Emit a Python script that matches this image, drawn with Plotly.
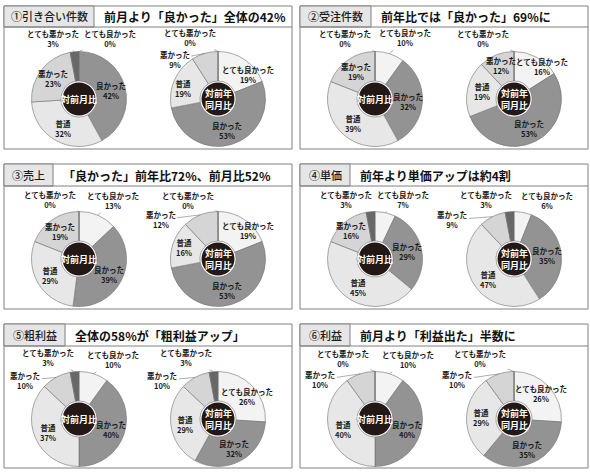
import math
import plotly.graph_objects as go

W, H = 590, 474

# ---------------- data ----------------
categories = ["とても良かった", "良かった", "普通", "悪かった", "とても悪かった"]
panel_labels = ["①引き合い件数", "②受注件数", "③売上", "④単価", "⑤粗利益", "⑥利益"]
panel_titles = [
    "前月より「良かった」全体の42%",
    "前年比では「良かった」69%に",
    "「良かった」前年比72%、前月比52%",
    "前年より単価アップは約4割",
    "全体の58%が「粗利益アップ」",
    "前月より「利益出た」半数に",
]
center_labels = ["対前月比", "対前年<br>同月比"]

# values in category order: [month-on-month, year-on-year]
p1_mom = [0, 42, 32, 23, 3]
p1_yoy = [19, 53, 19, 9, 0]
p2_mom = [10, 32, 39, 19, 0]
p2_yoy = [16, 53, 19, 12, 0]
p3_mom = [13, 39, 29, 19, 0]
p3_yoy = [19, 53, 16, 12, 0]
p4_mom = [7, 29, 45, 16, 3]
p4_yoy = [6, 35, 47, 9, 3]
p5_mom = [10, 40, 37, 10, 3]
p5_yoy = [26, 32, 29, 10, 3]
p6_mom = [10, 40, 40, 10, 0]
p6_yoy = [26, 35, 29, 10, 0]

panel_values = [
    (p1_mom, p1_yoy), (p2_mom, p2_yoy), (p3_mom, p3_yoy),
    (p4_mom, p4_yoy), (p5_mom, p5_yoy), (p6_mom, p6_yoy),
]

# ---------------- styles / layout ----------------
FONT = "Noto Sans CJK JP"
COLORS = ["#f3f3f3", "#939393", "#e7e7e7", "#d5d5d5", "#686868"]
SLICE_LINE = "#707070"
DISC = "#231815"
BORDER = "#808080"
LABEL_FILL = "#e6e6e6"
R = 47.5
HOLE = 0.38
DISC_R = 16.5

col_x = [(4, 292), (300, 588)]
rows = [(6, 27, 149), (164, 186, 309), (324, 346, 468)]
label_box_w = [90, 71, 49, 50, 61, 50]
pie_cx_off = [75, 214]   # from panel left
pie_cy = [99, 259, 419]

I = ("in", 0, 0.70)
def IN(da, rf):
    return ("in", da, rf)
def OUT(ax, ay):
    return ("out", ax, ay)

label_specs = [
    ([OUT(31, -13), I, I, I, OUT(-22, -13)],
     [IN(17, 0.81), I, IN(-6, 0.77), OUT(-30, 6), OUT(-28, -14)]),
    ([OUT(15, -16), I, I, I, OUT(-30, -13)],
     [IN(12, 0.9), I, I, IN(0, 0.75), OUT(-31, -13)]),
    ([OUT(15, -15), I, I, I, OUT(-29, -12)],
     [IN(12, 0.88), I, IN(0, 0.76), OUT(-40, 5), OUT(-30, -11)]),
    ([OUT(18, -13), I, I, IN(0, 0.78), OUT(-25, -12)],
     [OUT(24, -12), I, I, OUT(-40, 3), OUT(-24, -12)]),
    ([OUT(19, -14), I, I, OUT(-31, 3), OUT(-27, -14)],
     [IN(5, 0.78), I, I, OUT(-33, 3), OUT(-28, -14)]),
    ([OUT(18, -14), I, I, OUT(-40, 6), OUT(-32, -13)],
     [IN(0, 0.78), I, I, OUT(-42, 6), OUT(-34, -13)]),
]

def px(x):
    return x / W
def py(y):
    return 1 - y / H

fig = go.Figure()
shapes = []
annotations = []

def text_ann(x, y, text, font, xanchor="center"):
    return dict(x=px(x), y=py(y), xref="paper", yref="paper", text=text,
                showarrow=False, xanchor=xanchor, yanchor="middle",
                font=font, align="center")

def add_pie(vals, cx, cy, spec, center_text):
    fig.add_trace(go.Pie(
        values=vals, labels=categories, sort=False, direction="clockwise",
        rotation=0, hole=HOLE, textinfo="none", showlegend=False,
        marker=dict(colors=COLORS, line=dict(color=SLICE_LINE, width=0.6)),
        domain=dict(x=[px(cx - R), px(cx + R)], y=[py(cy + R), py(cy - R)]),
    ))
    shapes.append(dict(type="circle", xref="paper", yref="paper",
                       x0=px(cx - DISC_R), x1=px(cx + DISC_R),
                       y0=py(cy + DISC_R), y1=py(cy - DISC_R),
                       fillcolor=DISC, line=dict(width=0)))
    annotations.append(text_ann(cx, cy, center_text,
                                dict(family=FONT, size=9, color="white", weight="bold")))
    total = float(sum(vals))
    cum = 0.0
    for cat, v, sp in zip(categories, vals, spec):
        mid = (cum + v / 2.0) / total * 360.0
        cum += v
        text = f"{cat}<br>{v}%"
        f = dict(family=FONT, size=7.5, color="#1a1a1a", weight="bold")
        if sp[0] == "in":
            ang = math.radians(mid + sp[1])
            r = sp[2] * R
            lx = cx + r * math.sin(ang)
            ly = cy - r * math.cos(ang)
            annotations.append(text_ann(lx, ly, text, f))
        else:
            ang = math.radians(mid)
            ex = cx + R * math.sin(ang)
            ey = cy - R * math.cos(ang)
            annotations.append(dict(x=px(ex), y=py(ey), xref="paper", yref="paper",
                                    text=text, showarrow=True, arrowhead=0,
                                    arrowwidth=0.6, arrowcolor="#777", standoff=0,
                                    ax=sp[1], ay=sp[2], font=f, align="center"))

for k in range(6):
    row, col = divmod(k, 2)
    x0, x1 = col_x[col]
    top, hb, bot = rows[row]
    shapes.append(dict(type="rect", xref="paper", yref="paper",
                       x0=px(x0), x1=px(x1), y0=py(bot), y1=py(top),
                       line=dict(color=BORDER, width=1), fillcolor="white", layer="below"))
    lb = x0 + label_box_w[k]
    shapes.append(dict(type="rect", xref="paper", yref="paper",
                       x0=px(x0), x1=px(lb), y0=py(hb), y1=py(top),
                       line=dict(color=BORDER, width=1), fillcolor=LABEL_FILL, layer="below"))
    shapes.append(dict(type="line", xref="paper", yref="paper",
                       x0=px(x0), x1=px(x1), y0=py(hb), y1=py(hb),
                       line=dict(color=BORDER, width=1)))
    hc = (top + hb) / 2
    annotations.append(text_ann((x0 + lb) / 2, hc, panel_labels[k],
                                dict(family=FONT, size=11, color="#1a1a1a", weight=500)))
    annotations.append(text_ann(lb + 8, hc, panel_titles[k],
                                dict(family=FONT, size=12, color="#111", weight="bold"),
                                xanchor="left"))
    mom, yoy = panel_values[k]
    cy = pie_cy[row]
    add_pie(mom, x0 + pie_cx_off[0], cy, label_specs[k][0], center_labels[0])
    add_pie(yoy, x0 + pie_cx_off[1], cy, label_specs[k][1], center_labels[1])

fig.update_layout(width=W, height=H, margin=dict(l=0, r=0, t=0, b=0),
                  paper_bgcolor="white", plot_bgcolor="white",
                  shapes=shapes, annotations=annotations, showlegend=False)
fig.write_html("out.html", config={"displayModeBar": False},
               post_script="document.body.style.margin='0';document.body.style.overflow='hidden';")
